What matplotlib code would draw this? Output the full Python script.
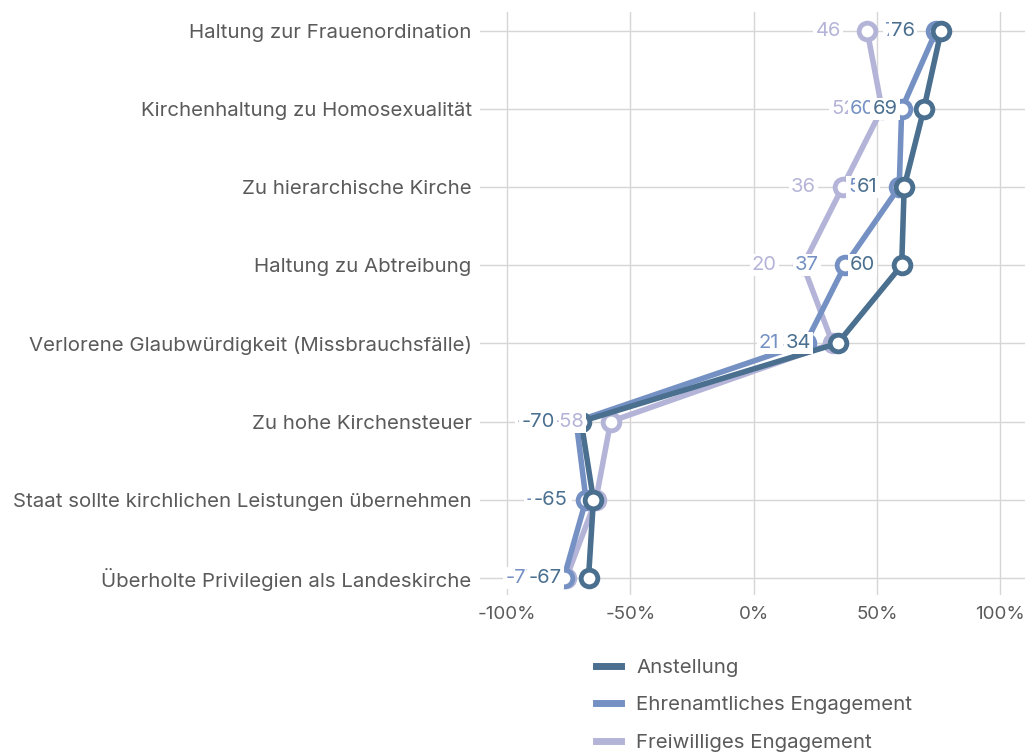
import matplotlib.pyplot as plt

plt.rcParams['font.family'] = ['Inter', 'DejaVu Sans']

categories = [
    "Haltung zur Frauenordination",
    "Kirchenhaltung zu Homosexualität",
    "Zu hierarchische Kirche",
    "Haltung zu Abtreibung",
    "Verlorene Glaubwürdigkeit (Missbrauchsfälle)",
    "Zu hohe Kirchensteuer",
    "Staat sollte kirchlichen Leistungen übernehmen",
    "Überholte Privilegien als Landeskirche",
]
anstellung = [76, 69, 61, 60, 34, -70, -65, -67]
ehrenamt = [74, 60, 59, 37, 21, -72, -68, -77]
freiwillig = [46, 52, 36, 20, 32, -58, -64, -76]

series = [
    ("Anstellung", anstellung, "#4a6f8f"),
    ("Ehrenamtliches Engagement", ehrenamt, "#7591c4"),
    ("Freiwilliges Engagement", freiwillig, "#b4b4d8"),
]

fig = plt.figure(figsize=(10.31, 7.53), dpi=100)
ax = fig.add_axes([480 / 1031, 1 - 595 / 753, 545 / 1031, 583 / 753])

ys = list(range(len(categories)))
# draw light series first so dark ends up on top
for z, (name, vals, col) in zip([5, 4, 3], series):
    ax.plot(vals, ys, color=col, lw=4, solid_capstyle='round',
            marker='o', ms=12, mfc='white', mec=col, mew=3.5, zorder=z)

for z, (name, vals, col) in zip([12, 11, 10], series):
    for v, y in zip(vals, ys):
        ax.annotate(f"{v}", (v, y), xytext=(-19, 0), textcoords='offset points',
                    ha='right', va='center', fontsize=14.5, color=col, zorder=z,
                    bbox=dict(boxstyle='square,pad=0.1', fc='white', ec='none'))

ax.set_xlim(-111, 110)
ax.set_ylim(7.22, -0.24)
ax.set_xticks([-100, -50, 0, 50, 100])
ax.set_xticklabels(["-100%", "-50%", "0%", "50%", "100%"])
ax.set_yticks(ys)
ax.set_yticklabels(categories)
ax.tick_params(axis='both', length=0, labelsize=13.5, colors='#5a5a5a')
ax.tick_params(axis='y', pad=6, labelsize=14.7)
ax.tick_params(axis='x', pad=8)
ax.grid(True, color='#d6d6d6', lw=1)
ax.set_axisbelow(True)
for s in ax.spines.values():
    s.set_visible(False)

leg_handles = [plt.Line2D([], [], color=c, lw=5) for _, _, c in series]
fig.legend(leg_handles, [n for n, _, _ in series], loc='upper left',
           bbox_to_anchor=(578 / 1031, 1 - 640 / 753), frameon=False,
           fontsize=14.7, labelcolor='#5a5a5a', handlelength=1.2,
           labelspacing=0.95, handletextpad=0.75)

fig.savefig("out.png", dpi=100)
